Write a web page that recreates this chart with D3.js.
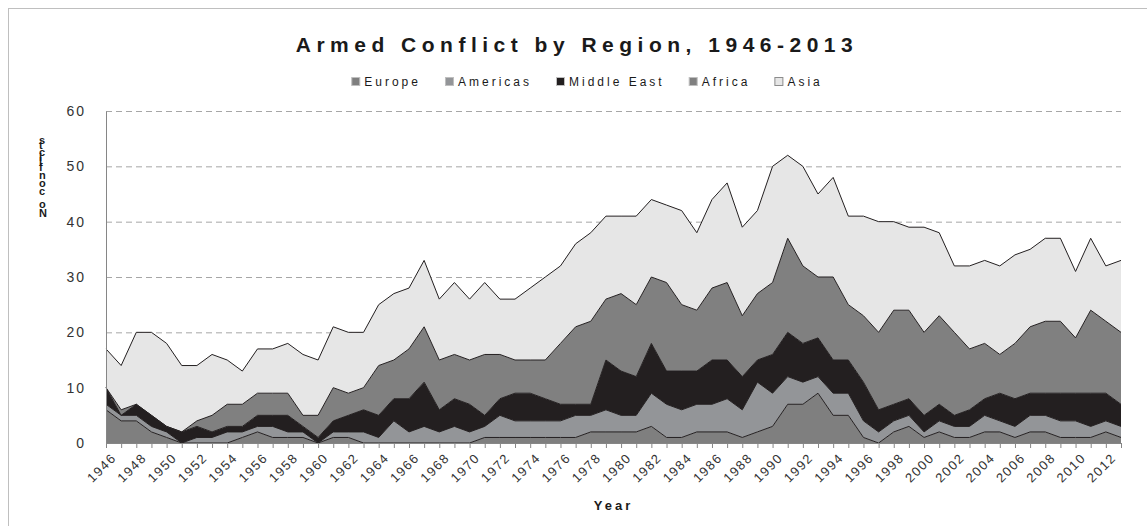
<!DOCTYPE html>
<html>
<head>
<meta charset="utf-8">
<script src="https://cdn.jsdelivr.net/npm/d3@7"></script>
<style>
  body { margin: 0; background: #fff; }
  svg { display: block; font-family: "Liberation Sans", Arial, sans-serif; }
</style>
</head>
<body>
<div class="container"></div>
<script>
// conflicts per region and year
const years = d3.range(1946, 2014);
const regions = ["Europe", "Americas", "Middle East", "Africa", "Asia"];
const europe = [6,4,4,2,1,0,0,0,0,1, 2,1,1,1,0,1,1,0,0,0, 0,0,0,0,0,1,1,1,1,1,
  1,1,2,2,2,2,3,1,1,2, 2,2,1,2,3,7,7,9,5,5, 1,0,2,3,1,2,1,1,2,2, 1,2,2,1,1,1,2,1];
const americas = [1,1,1,1,1,0,1,1,2,1, 1,2,1,1,0,1,1,2,1,4, 2,3,2,3,2,2,4,3,3,3,
  3,4,3,4,3,3,6,6,5,5, 5,6,5,9,6,5,4,3,4,4, 3,2,2,2,1,2,2,2,3,2, 2,3,3,3,3,2,2,2];
const middleEast = [3,0,2,2,1,2,2,1,1,1, 2,2,3,1,1,2,3,4,4,4, 6,8,4,5,5,2,3,5,5,4,
  3,2,2,9,8,7,9,6,7,6, 8,7,6,4,7,8,7,7,6,6, 7,4,3,3,3,3,2,3,3,5, 5,4,4,5,5,6,5,4];
const africa = [0,1,0,0,0,0,1,3,4,4, 4,4,4,2,4,6,4,4,9,7, 9,10,9,8,8,11,8,6,6,7,
  11,14,15,11,14,13,12,16,12,11, 13,14,11,12,13,17,14,11,15,10, 12,14,17,16,15,16,15,11,10,7,
  10,12,13,13,10,15,13,13];
const asia = [7,8,13,15,15,12,10,11,8,6, 8,8,9,11,10,11,11,10,11,12, 11,12,11,13,11,13,10,11,13,15,
  14,15,16,15,14,16,14,14,17,14, 16,18,16,15,21,15,18,15,18,16, 18,20,16,15,19,15,12,15,15,16,
  16,14,15,15,12,13,10,13];
const yTicks = [0, 10, 20, 30, 40, 50, 60];

const colors = {
  "Europe": "#7f7f7f",
  "Americas": "#939598",
  "Middle East": "#231f20",
  "Africa": "#808080",
  "Asia": "#e6e6e6",
};

const table = years.map((yr, i) => ({
  year: yr,
  "Europe": europe[i],
  "Americas": americas[i],
  "Middle East": middleEast[i],
  "Africa": africa[i],
  "Asia": asia[i],
}));

const W = 1147, H = 526;
const margin = { top: 111, right: 26, bottom: 83, left: 106 };
const width = W - margin.left - margin.right;
const height = H - margin.top - margin.bottom;

const svg = d3.select(".container")
  .append("svg")
  .attr("width", W)
  .attr("height", H);

svg.append("rect")
  .attr("x", 8.5).attr("y", 8.5)
  .attr("width", 1200).attr("height", 600)
  .attr("fill", "#fff")
  .attr("stroke", "#bfbfbf");

// title
svg.append("text")
  .attr("x", 577).attr("y", 52)
  .attr("text-anchor", "middle")
  .style("font-size", "21px")
  .style("font-weight", "bold")
  .style("letter-spacing", "5.5px")
  .attr("fill", "#1a1a1a")
  .text("Armed Conflict by Region, 1946-2013");

const g = svg.append("g")
  .attr("transform", `translate(${margin.left}, ${margin.top})`);

const x = d3.scaleLinear().domain([1946, 2013]).range([0, width]);
const y = d3.scaleLinear().domain([0, 60]).range([height, 0]);

// dashed gridlines
g.selectAll(".grid")
  .data(yTicks.filter((d) => d > 0))
  .enter()
  .append("line")
  .attr("x1", 0).attr("x2", width)
  .attr("y1", (d) => y(d) + 0.5).attr("y2", (d) => y(d) + 0.5)
  .attr("stroke", "#a6a6a6")
  .attr("stroke-dasharray", "6,4");

const stack = d3.stack().keys(regions);
const series = stack(table);

const area = d3.area()
  .x((d) => x(d.data.year))
  .y0((d) => y(d[0]))
  .y1((d) => y(d[1]));

const topLine = d3.line()
  .x((d) => x(d.data.year))
  .y((d) => y(d[1]));

g.selectAll(".layer")
  .data(series)
  .enter()
  .append("path")
  .attr("d", area)
  .attr("fill", (d) => colors[d.key]);

g.selectAll(".edge")
  .data(series)
  .enter()
  .append("path")
  .attr("d", topLine)
  .attr("fill", "none")
  .attr("stroke", "#231f20")
  .attr("stroke-width", 1);

// y axis
const yAxis = g.append("g")
  .call(d3.axisLeft(y).tickValues(yTicks).tickSize(0).tickPadding(20));
yAxis.select(".domain").attr("stroke", "#868686");
yAxis.selectAll("text")
  .style("font-size", "14px")
  .style("letter-spacing", "2px")
  .attr("fill", "#333");

// x axis
const xAxis = g.append("g")
  .attr("transform", `translate(0, ${height})`)
  .call(d3.axisBottom(x).tickValues(years).tickSize(5).tickFormat((d) => (d % 2 === 0 ? d : "")));
xAxis.select(".domain").attr("stroke", "#868686");
xAxis.selectAll(".tick line").attr("stroke", "#868686");
xAxis.selectAll("text")
  .style("font-size", "13px")
  .style("letter-spacing", "1.5px")
  .attr("fill", "#333")
  .attr("text-anchor", "end")
  .attr("dy", "0")
  .attr("transform", "translate(5, 10) rotate(-45)");

// axis titles
svg.append("text")
  .attr("x", margin.left + width / 2).attr("y", 510)
  .attr("text-anchor", "middle")
  .style("font-size", "13px")
  .style("font-weight", "bold")
  .style("letter-spacing", "3px")
  .attr("fill", "#1a1a1a")
  .text("Year");

// squashed vertical label: runs bottom to top, each glyph kept upright
svg.append("text")
  .attr("transform", "translate(39, 217) rotate(-90)")
  .attr("rotate", 90)
  .style("font-size", "11px")
  .style("font-weight", "bold")
  .style("letter-spacing", "1.5px")
  .attr("fill", "#1a1a1a")
  .text("No conflicts");

// legend
const legend = svg.append("g");
let lx = 0;
regions.forEach((r) => {
  const item = legend.append("g").attr("transform", `translate(${lx}, 0)`);
  item.append("rect")
    .attr("x", 0.5).attr("y", 77.5)
    .attr("width", 8).attr("height", 8)
    .attr("fill", colors[r])
    .attr("stroke", r === "Asia" ? "#8c8c8c" : "#bfbfbf");
  const t = item.append("text")
    .attr("x", 13).attr("y", 86)
    .style("font-size", "12px")
    .style("letter-spacing", "3px")
    .attr("fill", "#1a1a1a")
    .text(r);
  lx += 13 + t.node().getComputedTextLength() + 24;
});
legend.attr("transform", `translate(${587 - (lx - 24) / 2}, 0)`);
</script>
</body>
</html>
